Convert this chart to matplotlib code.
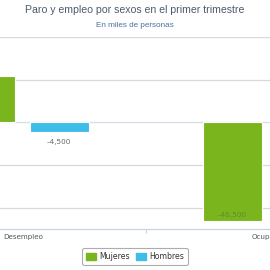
import numpy as np
import matplotlib.pyplot as plt
from matplotlib.patches import Patch

categories = ['Desempleo', 'Ocupados']
mujeres = [21500, -46500]
hombres = [-4500, np.nan]  # second value is outside the visible area

green = '#7ab51d'
blue = '#3dbde8'

plt.rcParams['font.family'] = ['DejaVu Sans']

fig = plt.figure(figsize=(2.7, 2.7), dpi=100)
ax = fig.add_axes([0, 0.152, 1, 0.711])

x = np.arange(len(categories))
w = 0.24
ax.bar(x - 0.15, mujeres, w, color=green, edgecolor='white', linewidth=0.8, zorder=3)
ax.bar(x + 0.15, hombres, w, color=blue, edgecolor='white', linewidth=0.8, zorder=3)

ax.set_xlim(-0.09, 1.003)
ax.set_ylim(-50000, 40000)
ax.set_yticks([-40000, -20000, 20000, 40000])
ax.yaxis.grid(True, color='#d8d8d8', linewidth=0.9, zorder=0)
ax.axhline(0, color='#d6dee8', linewidth=0.9, zorder=1)
ax.tick_params(axis='y', length=0, labelleft=False)
for s in ['top', 'left', 'right']:
    ax.spines[s].set_visible(False)
ax.spines['bottom'].set_color('#c8d4e2')
ax.spines['bottom'].set_linewidth(0.9)
ax.set_xticks([0.5])
ax.set_xticklabels([''])
ax.tick_params(axis='x', length=3, color='#c8d4e2', width=0.8)


def fmt(v):
    return f'{v:,.0f}'.replace('-', '\u2013')


# data labels
ax.annotate(fmt(hombres[0]), (x[0] + 0.15, hombres[0]), xytext=(0, -7),
            textcoords='offset points', ha='center', va='center',
            fontsize=5.2, color='#666666', zorder=4)
ax.annotate(fmt(mujeres[1]), (x[1] - 0.15, mujeres[1]), xytext=(0, 5),
            textcoords='offset points', ha='center', va='center',
            fontsize=5.2, color='#5f8a35', zorder=4)
ax.annotate(fmt(mujeres[0]), (x[0] - 0.15, mujeres[0]), xytext=(0, 5),
            textcoords='offset points', ha='center', va='center',
            fontsize=5.2, color='#666666', zorder=4, annotation_clip=True)

# category labels (justified by the chart at the edges, second one runs off)
ax.text(0.011, -0.042, categories[0], transform=ax.transAxes, ha='left',
        va='center', fontsize=5.1, color='#555555')
ax.text(0.932, -0.042, categories[1], transform=ax.transAxes, ha='left',
        va='center', fontsize=5.1, color='#555555')

fig.text(0.5, 0.962, 'Paro y empleo por sexos en el primer trimestre',
         ha='center', va='center', fontsize=7.6, color='#4d5b6b',
         family='Liberation Sans')
fig.text(0.5, 0.907, 'En miles de personas', ha='center', va='center',
         fontsize=5.9, color='#4a72a0', family='Liberation Sans')

handles = [Patch(facecolor=green, edgecolor=green), Patch(facecolor=blue, edgecolor=blue)]
leg = fig.legend(handles, ['Mujeres', 'Hombres'], loc='center',
                 bbox_to_anchor=(0.5, 0.05), ncol=2, fontsize=5.6,
                 frameon=True, handlelength=1.3, handleheight=0.9,
                 handletextpad=0.4, columnspacing=0.8, borderpad=0.5,
                 fancybox=True)
leg.get_frame().set_edgecolor('#999999')
leg.get_frame().set_linewidth(0.8)
for t in leg.get_texts():
    t.set_color('#333333')

fig.savefig('out.png', dpi=100)
